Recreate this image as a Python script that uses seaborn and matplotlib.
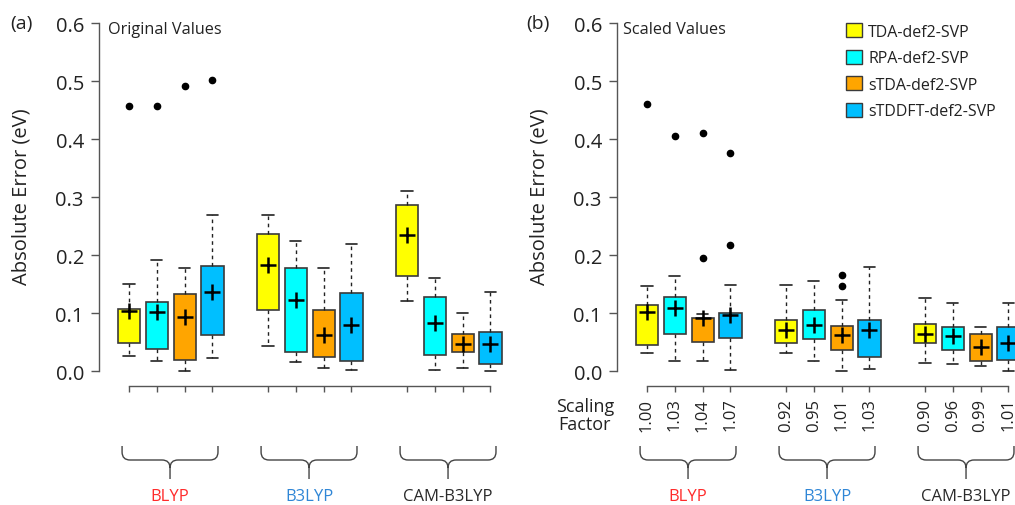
import numpy as np
import pandas as pd
import matplotlib
matplotlib.use("Agg")
import matplotlib.pyplot as plt
import seaborn as sns
from matplotlib.patches import Patch, PathPatch
from matplotlib.path import Path

# ---------------- data ----------------
functionals = ["BLYP", "B3LYP", "CAM-B3LYP"]
functional_colors = ["#FF2B2B", "#2F86D6", "#2A2A2A"]
methods = ["TDA-def2-SVP", "RPA-def2-SVP", "sTDA-def2-SVP", "sTDDFT-def2-SVP"]
method_colors = ["#FFFF00", "#00FFFF", "#FFA500", "#00BFFF"]

# order: BLYP(TDA,RPA,sTDA,sTDDFT), B3LYP(...), CAM-B3LYP(...)
orig_whishi = [0.150, 0.192, 0.179, 0.269, 0.270, 0.225, 0.179, 0.219, 0.311, 0.161, 0.101, 0.137]
orig_q3     = [0.108, 0.120, 0.133, 0.182, 0.237, 0.179, 0.106, 0.135, 0.287, 0.128, 0.064, 0.068]
orig_q1     = [0.049, 0.038, 0.020, 0.062, 0.105, 0.034, 0.025, 0.017, 0.164, 0.029, 0.033, 0.013]
orig_whislo = [0.026, 0.018, 0.000, 0.023, 0.043, 0.016, 0.006, 0.003, 0.122, 0.002, 0.006, 0.000]
orig_mean   = [0.104, 0.103, 0.094, 0.137, 0.184, 0.123, 0.063, 0.080, 0.235, 0.084, 0.047, 0.047]
orig_out    = [[0.457], [0.457], [0.492], [0.503], [], [], [], [], [], [], [], []]

scal_whishi = [0.147, 0.164, 0.098, 0.149, 0.148, 0.155, 0.123, 0.180, 0.126, 0.118, 0.076, 0.117]
scal_q3     = [0.114, 0.129, 0.092, 0.100, 0.088, 0.106, 0.079, 0.088, 0.081, 0.076, 0.064, 0.077]
scal_q1     = [0.046, 0.064, 0.050, 0.058, 0.049, 0.056, 0.037, 0.025, 0.048, 0.037, 0.017, 0.019]
scal_whislo = [0.032, 0.017, 0.018, 0.002, 0.032, 0.017, 0.000, 0.004, 0.015, 0.013, 0.010, 0.001]
scal_mean   = [0.103, 0.109, 0.092, 0.097, 0.071, 0.080, 0.063, 0.071, 0.065, 0.061, 0.042, 0.049]
scal_out    = [[0.461], [0.406], [0.411, 0.195], [0.376, 0.218], [], [], [0.166, 0.147], [], [], [], [], []]

scaling_factors = ["1.00", "1.03", "1.04", "1.07", "0.92", "0.95", "1.01", "1.03",
                   "0.90", "0.96", "0.99", "1.01"]
yticks = [0.0, 0.1, 0.2, 0.3, 0.4, 0.5, 0.6]

# ---------------- style ----------------
sns.set_theme(style="white")
plt.rcParams["font.family"] = ["Open Sans", "DejaVu Sans"]
TXT = "#222222"
SPINE = "#555555"

W, H = 1015, 506
fig = plt.figure(figsize=(W / 100, H / 100), dpi=100)

AX_TOP, AX_BOT = 10, 387


def px_axes(x0, x1, ytop, ybot):
    return fig.add_axes([x0 / W, 1 - ybot / H, (x1 - x0) / W, (ybot - ytop) / H])


positions = [g * 5 + m + 1 for g in range(len(functionals)) for m in range(len(methods))]
colors = [method_colors[m] for g in range(len(functionals)) for m in range(len(methods))]
XL = (-0.08, 14.5)
YL = (-0.0253, 0.6247)
AX_W = 14.58 * 27.8


def draw_panel(ax, whislo, q1, q3, whishi, mean, out):
    stats = []
    for i in range(len(positions)):
        stats.append(dict(whislo=whislo[i], q1=q1[i], med=mean[i], q3=q3[i],
                          whishi=whishi[i], fliers=np.array(out[i])))
    bp = ax.bxp(stats, positions=positions, widths=0.8, patch_artist=True,
                showfliers=True, manage_ticks=False,
                boxprops=dict(edgecolor="#3a3a3a", linewidth=1.2),
                whiskerprops=dict(color="#222222", linewidth=1.0, linestyle=(0, (2.6, 2.6))),
                capprops=dict(color="#222222", linewidth=1.2),
                medianprops=dict(visible=False),
                flierprops=dict(marker="o", markerfacecolor="black", markeredgecolor="black",
                                markersize=4.5, linestyle="none"))
    for patch, c in zip(bp["boxes"], colors):
        patch.set_facecolor(c)
    for cap in bp["caps"]:
        xd = cap.get_xdata()
        c = (xd[0] + xd[1]) / 2
        cap.set_xdata([c - 0.2, c + 0.2])
    df = pd.DataFrame({"pos": positions, "mean": mean})
    sns.scatterplot(data=df, x="pos", y="mean", marker="+", s=130, color="black",
                    linewidth=1.8, ax=ax, legend=False, zorder=5)
    ax.set_xlim(*XL)
    ax.set_ylim(*YL)
    ax.set_xlabel("")
    ax.set_ylabel("Absolute Error (eV)", fontsize=14.5, color=TXT)
    ax.yaxis.set_label_coords(-67 / AX_W, (AX_BOT - 197) / (AX_BOT - AX_TOP))
    ax.set_yticks(yticks)
    ax.set_yticklabels([f"{v:.1f}" for v in yticks], fontsize=14.5, color=TXT)
    ax.set_xticks(positions)
    for s in ["top", "right"]:
        ax.spines[s].set_visible(False)
    for s in ["left", "bottom"]:
        ax.spines[s].set_color(SPINE)
        ax.spines[s].set_linewidth(1.0)
    ax.spines["left"].set_bounds(0, 0.6)
    ax.spines["bottom"].set_bounds(1, 14)
    ax.tick_params(axis="y", left=True, direction="out", length=5.8, width=1.0,
                   color=SPINE, pad=5)
    ax.tick_params(axis="x", bottom=True, direction="out", length=4.3, width=1.0,
                   color=SPINE, pad=4)
    ax.set_facecolor("none")


axA = px_axes(99, 99 + AX_W, AX_TOP, AX_BOT)
draw_panel(axA, orig_whislo, orig_q1, orig_q3, orig_whishi, orig_mean, orig_out)
axA.set_xticklabels([])

axB = px_axes(617, 617 + AX_W, AX_TOP, AX_BOT)
draw_panel(axB, scal_whislo, scal_q1, scal_q3, scal_whishi, scal_mean, scal_out)
axB.set_xticklabels(scaling_factors, rotation=90, fontsize=12, color=TXT)

# panel annotations
fig.text(10 / W, 1 - 24 / H, "(a)", fontsize=14, color=TXT, va="center", ha="left")
fig.text(526 / W, 1 - 24 / H, "(b)", fontsize=14, color=TXT, va="center", ha="left")
fig.text(108 / W, 1 - 30 / H, "Original Values", fontsize=11.7, color=TXT, va="center", ha="left")
fig.text(623 / W, 1 - 30 / H, "Scaled Values", fontsize=11.7, color=TXT, va="center", ha="left")
fig.text(585 / W, 1 - 416 / H, "Scaling\nFactor", fontsize=13, color=TXT,
         va="center", ha="center", linespacing=1.05)

# legend
handles = [Patch(facecolor=c, edgecolor="#3a3a3a", linewidth=1.0) for c in method_colors]
fig.legend(handles, methods, loc="upper left", bbox_to_anchor=(846 / W, 1 - 24 / H),
           frameon=False, fontsize=11.5, handlelength=1.0, handleheight=1.0,
           handletextpad=0.4, labelspacing=0.62, borderaxespad=0, borderpad=0,
           labelcolor=TXT)

# braces + functional labels
fig.canvas.draw()


def brace(ax, p_left, p_right, label, color):
    xl = ax.transData.transform((p_left, 0))[0]
    xr = ax.transData.transform((p_right, 0))[0]
    xc = (xl + xr) / 2
    top, mid, bot, r = 447, 461, 480, 8
    pts = [(xl, top), (xl, mid - r), (xl, mid), (xl + r, mid), (xc - r, mid),
           (xc, mid), (xc, mid + r), (xc, bot),
           (xc, mid + r), (xc, mid), (xc + r, mid), (xr - r, mid), (xr, mid), (xr, mid - r), (xr, top)]
    codes = [Path.MOVETO, Path.LINETO, Path.CURVE3, Path.CURVE3, Path.LINETO,
             Path.CURVE3, Path.CURVE3, Path.LINETO,
             Path.MOVETO, Path.CURVE3, Path.CURVE3, Path.LINETO, Path.CURVE3, Path.CURVE3, Path.LINETO]
    verts = [(x / W, 1 - y / H) for x, y in pts]
    fig.add_artist(PathPatch(Path(verts, codes), transform=fig.transFigure, fill=False,
                             edgecolor="#444444", linewidth=1.0))
    fig.text(xc / W, 1 - 497 / H, label, fontsize=12, color=color, ha="center", va="center")


for ax in (axA, axB):
    for g, (name, col) in enumerate(zip(functionals, functional_colors)):
        first = positions[g * 4]
        last = positions[g * 4 + 3]
        brace(ax, first - 0.25, last + 0.2, name, col)

fig.savefig("out.png", dpi=100)
